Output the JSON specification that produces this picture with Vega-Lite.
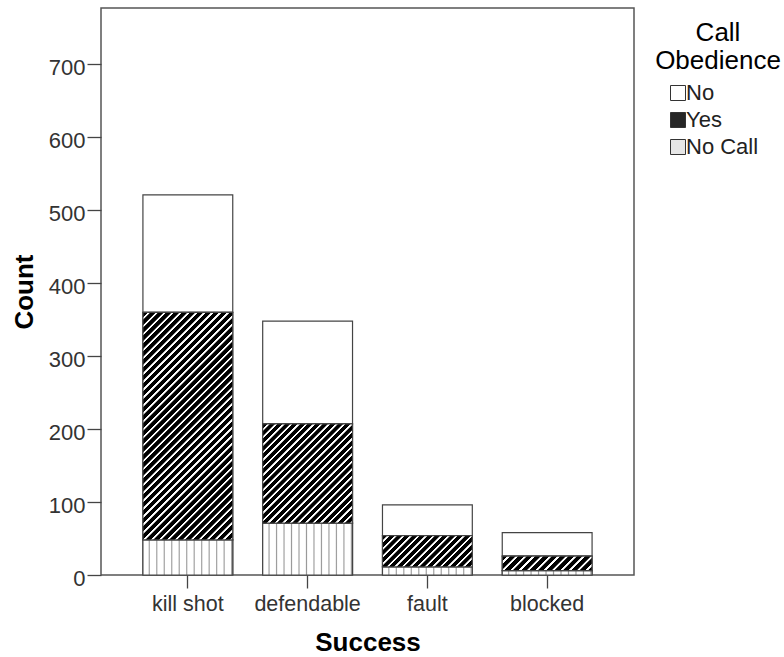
{
  "$schema": "https://vega.github.io/schema/vega-lite/v6.json",
  "width": 533,
  "height": 567,
  "autosize": {"type": "none"},
  "padding": {"left": 101, "top": 8, "right": 150, "bottom": 82},
  "background": "white",
  "config": {
    "font": "Liberation Sans",
    "view": {"stroke": "#555", "strokeWidth": 1.5},
    "axis": {"domain": false, "grid": false, "tickColor": "#444", "tickWidth": 1.3, "labelColor": "#333", "labelFont": "Liberation Sans", "titleFont": "Liberation Sans", "titleColor": "#000", "titleFontWeight": "bold", "titleFontSize": 26}
  },
  "data": {"values": [
    {"success": "kill shot", "obedience": "No", "code": 1, "count": 161},
    {"success": "kill shot", "obedience": "Yes", "code": 2, "count": 312},
    {"success": "kill shot", "obedience": "No Call", "code": 3, "count": 48},
    {"success": "defendable", "obedience": "No", "code": 1, "count": 141},
    {"success": "defendable", "obedience": "Yes", "code": 2, "count": 136},
    {"success": "defendable", "obedience": "No Call", "code": 3, "count": 71},
    {"success": "fault", "obedience": "No", "code": 1, "count": 42},
    {"success": "fault", "obedience": "Yes", "code": 2, "count": 43},
    {"success": "fault", "obedience": "No Call", "code": 3, "count": 11},
    {"success": "blocked", "obedience": "No", "code": 1, "count": 32},
    {"success": "blocked", "obedience": "Yes", "code": 2, "count": 20},
    {"success": "blocked", "obedience": "No Call", "code": 3, "count": 6}
  ]},
  "transform": [
    {"stack": "count", "groupby": ["success"], "sort": [{"field": "code", "order": "descending"}], "as": ["y0", "y1"]}
  ],
  "encoding": {
    "x": {"field": "success", "type": "nominal", "sort": ["kill shot", "defendable", "fault", "blocked"],
      "scale": {"paddingInner": 0.25, "paddingOuter": 0.35},
      "axis": {"title": "Success", "labelAngle": 0, "tickSize": 13, "labelPadding": 5, "labelFontSize": 21.5, "titlePadding": 15}},
    "y": {"field": "y0", "type": "quantitative", "scale": {"domain": [0, 777], "nice": false},
      "axis": {"title": "Count", "values": [0, 100, 200, 300, 400, 500, 600, 700], "tickSize": 14, "labelPadding": 2, "labelFontSize": 22, "labelOffset": 3.5, "titlePadding": 11}},
    "y2": {"field": "y1"}
  },
  "layer": [
    {
      "mark": {"type": "bar", "stroke": "#444", "strokeWidth": 1.2},
      "encoding": {
        "color": {"field": "obedience", "type": "nominal",
          "scale": {"domain": ["No", "Yes", "No Call"], "range": ["#ffffff", "#262626", "#e6e6e6"]},
          "legend": {"title": ["Call", "Obedience"], "orient": "right", "offset": 9, "padding": 12,
            "titleFontSize": 26, "titleFontWeight": "normal", "titleAlign": "center", "titleAnchor": "middle", "titleLineHeight": 28, "titlePadding": 8, "titleColor": "#000",
            "labelFontSize": 22, "labelColor": "#222", "symbolType": "square", "symbolSize": 225, "symbolStrokeColor": "#333", "symbolStrokeWidth": 1,
            "symbolOffset": -10, "labelOffset": -3, "rowPadding": 5}
        }
      }
    },
    {
      "transform": [{"filter": "datum.obedience === 'No Call'"}],
      "mark": {"type": "bar", "stroke": "#444", "strokeWidth": 1.2,
        "fill": {"gradient": "linear", "x1": 0, "y1": 0, "x2": 1, "y2": 0, "stops": [
          {"offset": 0, "color": "#fff"}, {"offset": 0.0583, "color": "#fff"}, {"offset": 0.0708, "color": "#999"},
          {"offset": 0.0833, "color": "#fff"}, {"offset": 0.1417, "color": "#fff"}, {"offset": 0.1542, "color": "#999"},
          {"offset": 0.1667, "color": "#fff"}, {"offset": 0.225, "color": "#fff"}, {"offset": 0.2375, "color": "#999"},
          {"offset": 0.25, "color": "#fff"}, {"offset": 0.3083, "color": "#fff"}, {"offset": 0.3208, "color": "#999"},
          {"offset": 0.3333, "color": "#fff"}, {"offset": 0.3917, "color": "#fff"}, {"offset": 0.4042, "color": "#999"},
          {"offset": 0.4167, "color": "#fff"}, {"offset": 0.475, "color": "#fff"}, {"offset": 0.4875, "color": "#999"},
          {"offset": 0.5, "color": "#fff"}, {"offset": 0.5583, "color": "#fff"}, {"offset": 0.5708, "color": "#999"},
          {"offset": 0.5833, "color": "#fff"}, {"offset": 0.6417, "color": "#fff"}, {"offset": 0.6542, "color": "#999"},
          {"offset": 0.6667, "color": "#fff"}, {"offset": 0.725, "color": "#fff"}, {"offset": 0.7375, "color": "#999"},
          {"offset": 0.75, "color": "#fff"}, {"offset": 0.8083, "color": "#fff"}, {"offset": 0.8208, "color": "#999"},
          {"offset": 0.8333, "color": "#fff"}, {"offset": 0.8917, "color": "#fff"}, {"offset": 0.9042, "color": "#999"},
          {"offset": 0.9167, "color": "#fff"}, {"offset": 0.975, "color": "#fff"}, {"offset": 0.9875, "color": "#999"},
          {"offset": 1, "color": "#fff"}
        ]}}
    },
    {
      "transform": [{"filter": "datum.obedience === 'Yes' && datum.success === 'kill shot'"}],
      "mark": {"type": "bar", "stroke": "#444", "strokeWidth": 1.2,
        "fill": {"gradient": "linear", "x1": 0, "y1": 0, "x2": 0.4761, "y2": 1.2065, "stops": [
          {"offset": 0, "color": "#000"}, {"offset": 0.015, "color": "#000"}, {"offset": 0.017, "color": "#fff"}, {"offset": 0.023, "color": "#fff"},
          {"offset": 0.025, "color": "#000"}, {"offset": 0.04, "color": "#000"}, {"offset": 0.042, "color": "#fff"}, {"offset": 0.048, "color": "#fff"},
          {"offset": 0.05, "color": "#000"}, {"offset": 0.065, "color": "#000"}, {"offset": 0.067, "color": "#fff"}, {"offset": 0.073, "color": "#fff"},
          {"offset": 0.075, "color": "#000"}, {"offset": 0.09, "color": "#000"}, {"offset": 0.092, "color": "#fff"}, {"offset": 0.098, "color": "#fff"},
          {"offset": 0.1, "color": "#000"}, {"offset": 0.115, "color": "#000"}, {"offset": 0.117, "color": "#fff"}, {"offset": 0.123, "color": "#fff"},
          {"offset": 0.125, "color": "#000"}, {"offset": 0.14, "color": "#000"}, {"offset": 0.142, "color": "#fff"}, {"offset": 0.148, "color": "#fff"},
          {"offset": 0.15, "color": "#000"}, {"offset": 0.165, "color": "#000"}, {"offset": 0.167, "color": "#fff"}, {"offset": 0.173, "color": "#fff"},
          {"offset": 0.175, "color": "#000"}, {"offset": 0.19, "color": "#000"}, {"offset": 0.192, "color": "#fff"}, {"offset": 0.198, "color": "#fff"},
          {"offset": 0.2, "color": "#000"}, {"offset": 0.215, "color": "#000"}, {"offset": 0.217, "color": "#fff"}, {"offset": 0.223, "color": "#fff"},
          {"offset": 0.225, "color": "#000"}, {"offset": 0.24, "color": "#000"}, {"offset": 0.242, "color": "#fff"}, {"offset": 0.248, "color": "#fff"},
          {"offset": 0.25, "color": "#000"}, {"offset": 0.265, "color": "#000"}, {"offset": 0.267, "color": "#fff"}, {"offset": 0.273, "color": "#fff"},
          {"offset": 0.275, "color": "#000"}, {"offset": 0.29, "color": "#000"}, {"offset": 0.292, "color": "#fff"}, {"offset": 0.298, "color": "#fff"},
          {"offset": 0.3, "color": "#000"}, {"offset": 0.315, "color": "#000"}, {"offset": 0.317, "color": "#fff"}, {"offset": 0.323, "color": "#fff"},
          {"offset": 0.325, "color": "#000"}, {"offset": 0.34, "color": "#000"}, {"offset": 0.342, "color": "#fff"}, {"offset": 0.348, "color": "#fff"},
          {"offset": 0.35, "color": "#000"}, {"offset": 0.365, "color": "#000"}, {"offset": 0.367, "color": "#fff"}, {"offset": 0.373, "color": "#fff"},
          {"offset": 0.375, "color": "#000"}, {"offset": 0.39, "color": "#000"}, {"offset": 0.392, "color": "#fff"}, {"offset": 0.398, "color": "#fff"},
          {"offset": 0.4, "color": "#000"}, {"offset": 0.415, "color": "#000"}, {"offset": 0.417, "color": "#fff"}, {"offset": 0.423, "color": "#fff"},
          {"offset": 0.425, "color": "#000"}, {"offset": 0.44, "color": "#000"}, {"offset": 0.442, "color": "#fff"}, {"offset": 0.448, "color": "#fff"},
          {"offset": 0.45, "color": "#000"}, {"offset": 0.465, "color": "#000"}, {"offset": 0.467, "color": "#fff"}, {"offset": 0.473, "color": "#fff"},
          {"offset": 0.475, "color": "#000"}, {"offset": 0.49, "color": "#000"}, {"offset": 0.492, "color": "#fff"}, {"offset": 0.498, "color": "#fff"},
          {"offset": 0.5, "color": "#000"}, {"offset": 0.515, "color": "#000"}, {"offset": 0.517, "color": "#fff"}, {"offset": 0.523, "color": "#fff"},
          {"offset": 0.525, "color": "#000"}, {"offset": 0.54, "color": "#000"}, {"offset": 0.542, "color": "#fff"}, {"offset": 0.548, "color": "#fff"},
          {"offset": 0.55, "color": "#000"}, {"offset": 0.565, "color": "#000"}, {"offset": 0.567, "color": "#fff"}, {"offset": 0.573, "color": "#fff"},
          {"offset": 0.575, "color": "#000"}, {"offset": 0.59, "color": "#000"}, {"offset": 0.592, "color": "#fff"}, {"offset": 0.598, "color": "#fff"},
          {"offset": 0.6, "color": "#000"}, {"offset": 0.615, "color": "#000"}, {"offset": 0.617, "color": "#fff"}, {"offset": 0.623, "color": "#fff"},
          {"offset": 0.625, "color": "#000"}, {"offset": 0.64, "color": "#000"}, {"offset": 0.642, "color": "#fff"}, {"offset": 0.648, "color": "#fff"},
          {"offset": 0.65, "color": "#000"}, {"offset": 0.665, "color": "#000"}, {"offset": 0.667, "color": "#fff"}, {"offset": 0.673, "color": "#fff"},
          {"offset": 0.675, "color": "#000"}, {"offset": 0.69, "color": "#000"}, {"offset": 0.692, "color": "#fff"}, {"offset": 0.698, "color": "#fff"},
          {"offset": 0.7, "color": "#000"}, {"offset": 0.715, "color": "#000"}, {"offset": 0.717, "color": "#fff"}, {"offset": 0.723, "color": "#fff"},
          {"offset": 0.725, "color": "#000"}, {"offset": 0.74, "color": "#000"}, {"offset": 0.742, "color": "#fff"}, {"offset": 0.748, "color": "#fff"},
          {"offset": 0.75, "color": "#000"}, {"offset": 0.765, "color": "#000"}, {"offset": 0.767, "color": "#fff"}, {"offset": 0.773, "color": "#fff"},
          {"offset": 0.775, "color": "#000"}, {"offset": 0.79, "color": "#000"}, {"offset": 0.792, "color": "#fff"}, {"offset": 0.798, "color": "#fff"},
          {"offset": 0.8, "color": "#000"}, {"offset": 0.815, "color": "#000"}, {"offset": 0.817, "color": "#fff"}, {"offset": 0.823, "color": "#fff"},
          {"offset": 0.825, "color": "#000"}, {"offset": 0.84, "color": "#000"}, {"offset": 0.842, "color": "#fff"}, {"offset": 0.848, "color": "#fff"},
          {"offset": 0.85, "color": "#000"}, {"offset": 0.865, "color": "#000"}, {"offset": 0.867, "color": "#fff"}, {"offset": 0.873, "color": "#fff"},
          {"offset": 0.875, "color": "#000"}, {"offset": 0.89, "color": "#000"}, {"offset": 0.892, "color": "#fff"}, {"offset": 0.898, "color": "#fff"},
          {"offset": 0.9, "color": "#000"}, {"offset": 0.915, "color": "#000"}, {"offset": 0.917, "color": "#fff"}, {"offset": 0.923, "color": "#fff"},
          {"offset": 0.925, "color": "#000"}, {"offset": 0.94, "color": "#000"}, {"offset": 0.942, "color": "#fff"}, {"offset": 0.948, "color": "#fff"},
          {"offset": 0.95, "color": "#000"}, {"offset": 0.965, "color": "#000"}, {"offset": 0.967, "color": "#fff"}, {"offset": 0.973, "color": "#fff"},
          {"offset": 0.975, "color": "#000"}, {"offset": 0.99, "color": "#000"}, {"offset": 0.992, "color": "#fff"}, {"offset": 0.998, "color": "#fff"},
          {"offset": 1, "color": "#000"}
        ]}}
    },
    {
      "transform": [{"filter": "datum.obedience === 'Yes' && datum.success === 'defendable'"}],
      "mark": {"type": "bar", "stroke": "#444", "strokeWidth": 1.2,
        "fill": {"gradient": "linear", "x1": 0, "y1": 0, "x2": 0.9482, "y2": 1.0469, "stops": [
          {"offset": 0, "color": "#000"}, {"offset": 0.024, "color": "#000"}, {"offset": 0.027, "color": "#fff"}, {"offset": 0.037, "color": "#fff"},
          {"offset": 0.04, "color": "#000"}, {"offset": 0.064, "color": "#000"}, {"offset": 0.067, "color": "#fff"}, {"offset": 0.077, "color": "#fff"},
          {"offset": 0.08, "color": "#000"}, {"offset": 0.104, "color": "#000"}, {"offset": 0.107, "color": "#fff"}, {"offset": 0.117, "color": "#fff"},
          {"offset": 0.12, "color": "#000"}, {"offset": 0.144, "color": "#000"}, {"offset": 0.147, "color": "#fff"}, {"offset": 0.157, "color": "#fff"},
          {"offset": 0.16, "color": "#000"}, {"offset": 0.184, "color": "#000"}, {"offset": 0.187, "color": "#fff"}, {"offset": 0.197, "color": "#fff"},
          {"offset": 0.2, "color": "#000"}, {"offset": 0.224, "color": "#000"}, {"offset": 0.227, "color": "#fff"}, {"offset": 0.237, "color": "#fff"},
          {"offset": 0.24, "color": "#000"}, {"offset": 0.264, "color": "#000"}, {"offset": 0.267, "color": "#fff"}, {"offset": 0.277, "color": "#fff"},
          {"offset": 0.28, "color": "#000"}, {"offset": 0.304, "color": "#000"}, {"offset": 0.307, "color": "#fff"}, {"offset": 0.317, "color": "#fff"},
          {"offset": 0.32, "color": "#000"}, {"offset": 0.344, "color": "#000"}, {"offset": 0.347, "color": "#fff"}, {"offset": 0.357, "color": "#fff"},
          {"offset": 0.36, "color": "#000"}, {"offset": 0.384, "color": "#000"}, {"offset": 0.387, "color": "#fff"}, {"offset": 0.397, "color": "#fff"},
          {"offset": 0.4, "color": "#000"}, {"offset": 0.424, "color": "#000"}, {"offset": 0.427, "color": "#fff"}, {"offset": 0.437, "color": "#fff"},
          {"offset": 0.44, "color": "#000"}, {"offset": 0.464, "color": "#000"}, {"offset": 0.467, "color": "#fff"}, {"offset": 0.477, "color": "#fff"},
          {"offset": 0.48, "color": "#000"}, {"offset": 0.504, "color": "#000"}, {"offset": 0.507, "color": "#fff"}, {"offset": 0.517, "color": "#fff"},
          {"offset": 0.52, "color": "#000"}, {"offset": 0.544, "color": "#000"}, {"offset": 0.547, "color": "#fff"}, {"offset": 0.557, "color": "#fff"},
          {"offset": 0.56, "color": "#000"}, {"offset": 0.584, "color": "#000"}, {"offset": 0.587, "color": "#fff"}, {"offset": 0.597, "color": "#fff"},
          {"offset": 0.6, "color": "#000"}, {"offset": 0.624, "color": "#000"}, {"offset": 0.627, "color": "#fff"}, {"offset": 0.637, "color": "#fff"},
          {"offset": 0.64, "color": "#000"}, {"offset": 0.664, "color": "#000"}, {"offset": 0.667, "color": "#fff"}, {"offset": 0.677, "color": "#fff"},
          {"offset": 0.68, "color": "#000"}, {"offset": 0.704, "color": "#000"}, {"offset": 0.707, "color": "#fff"}, {"offset": 0.717, "color": "#fff"},
          {"offset": 0.72, "color": "#000"}, {"offset": 0.744, "color": "#000"}, {"offset": 0.747, "color": "#fff"}, {"offset": 0.757, "color": "#fff"},
          {"offset": 0.76, "color": "#000"}, {"offset": 0.784, "color": "#000"}, {"offset": 0.787, "color": "#fff"}, {"offset": 0.797, "color": "#fff"},
          {"offset": 0.8, "color": "#000"}, {"offset": 0.824, "color": "#000"}, {"offset": 0.827, "color": "#fff"}, {"offset": 0.837, "color": "#fff"},
          {"offset": 0.84, "color": "#000"}, {"offset": 0.864, "color": "#000"}, {"offset": 0.867, "color": "#fff"}, {"offset": 0.877, "color": "#fff"},
          {"offset": 0.88, "color": "#000"}, {"offset": 0.904, "color": "#000"}, {"offset": 0.907, "color": "#fff"}, {"offset": 0.917, "color": "#fff"},
          {"offset": 0.92, "color": "#000"}, {"offset": 0.944, "color": "#000"}, {"offset": 0.947, "color": "#fff"}, {"offset": 0.957, "color": "#fff"},
          {"offset": 0.96, "color": "#000"}, {"offset": 0.984, "color": "#000"}, {"offset": 0.987, "color": "#fff"}, {"offset": 0.997, "color": "#fff"},
          {"offset": 1, "color": "#000"}
        ]}}
    },
    {
      "transform": [{"filter": "datum.obedience === 'Yes' && datum.success === 'fault'"}],
      "mark": {"type": "bar", "stroke": "#444", "strokeWidth": 1.2,
        "fill": {"gradient": "linear", "x1": 0, "y1": 0, "x2": 1.2026, "y2": 0.4203, "stops": [
          {"offset": 0, "color": "#000"}, {"offset": 0.0375, "color": "#000"}, {"offset": 0.0425, "color": "#fff"}, {"offset": 0.0575, "color": "#fff"},
          {"offset": 0.0625, "color": "#000"}, {"offset": 0.1, "color": "#000"}, {"offset": 0.105, "color": "#fff"}, {"offset": 0.12, "color": "#fff"},
          {"offset": 0.125, "color": "#000"}, {"offset": 0.1625, "color": "#000"}, {"offset": 0.1675, "color": "#fff"}, {"offset": 0.1825, "color": "#fff"},
          {"offset": 0.1875, "color": "#000"}, {"offset": 0.225, "color": "#000"}, {"offset": 0.23, "color": "#fff"}, {"offset": 0.245, "color": "#fff"},
          {"offset": 0.25, "color": "#000"}, {"offset": 0.2875, "color": "#000"}, {"offset": 0.2925, "color": "#fff"}, {"offset": 0.3075, "color": "#fff"},
          {"offset": 0.3125, "color": "#000"}, {"offset": 0.35, "color": "#000"}, {"offset": 0.355, "color": "#fff"}, {"offset": 0.37, "color": "#fff"},
          {"offset": 0.375, "color": "#000"}, {"offset": 0.4125, "color": "#000"}, {"offset": 0.4175, "color": "#fff"}, {"offset": 0.4325, "color": "#fff"},
          {"offset": 0.4375, "color": "#000"}, {"offset": 0.475, "color": "#000"}, {"offset": 0.48, "color": "#fff"}, {"offset": 0.495, "color": "#fff"},
          {"offset": 0.5, "color": "#000"}, {"offset": 0.5375, "color": "#000"}, {"offset": 0.5425, "color": "#fff"}, {"offset": 0.5575, "color": "#fff"},
          {"offset": 0.5625, "color": "#000"}, {"offset": 0.6, "color": "#000"}, {"offset": 0.605, "color": "#fff"}, {"offset": 0.62, "color": "#fff"},
          {"offset": 0.625, "color": "#000"}, {"offset": 0.6625, "color": "#000"}, {"offset": 0.6675, "color": "#fff"}, {"offset": 0.6825, "color": "#fff"},
          {"offset": 0.6875, "color": "#000"}, {"offset": 0.725, "color": "#000"}, {"offset": 0.73, "color": "#fff"}, {"offset": 0.745, "color": "#fff"},
          {"offset": 0.75, "color": "#000"}, {"offset": 0.7875, "color": "#000"}, {"offset": 0.7925, "color": "#fff"}, {"offset": 0.8075, "color": "#fff"},
          {"offset": 0.8125, "color": "#000"}, {"offset": 0.85, "color": "#000"}, {"offset": 0.855, "color": "#fff"}, {"offset": 0.87, "color": "#fff"},
          {"offset": 0.875, "color": "#000"}, {"offset": 0.9125, "color": "#000"}, {"offset": 0.9175, "color": "#fff"}, {"offset": 0.9325, "color": "#fff"},
          {"offset": 0.9375, "color": "#000"}, {"offset": 0.975, "color": "#000"}, {"offset": 0.98, "color": "#fff"}, {"offset": 0.995, "color": "#fff"},
          {"offset": 1, "color": "#000"}
        ]}}
    },
    {
      "transform": [{"filter": "datum.obedience === 'Yes' && datum.success === 'blocked'"}],
      "mark": {"type": "bar", "stroke": "#444", "strokeWidth": 1.2,
        "fill": {"gradient": "linear", "x1": 0, "y1": 0, "x2": 1.1326, "y2": 0.184, "stops": [
          {"offset": 0, "color": "#000"}, {"offset": 0.048, "color": "#000"}, {"offset": 0.054, "color": "#fff"}, {"offset": 0.074, "color": "#fff"},
          {"offset": 0.08, "color": "#000"}, {"offset": 0.128, "color": "#000"}, {"offset": 0.134, "color": "#fff"}, {"offset": 0.154, "color": "#fff"},
          {"offset": 0.16, "color": "#000"}, {"offset": 0.208, "color": "#000"}, {"offset": 0.214, "color": "#fff"}, {"offset": 0.234, "color": "#fff"},
          {"offset": 0.24, "color": "#000"}, {"offset": 0.288, "color": "#000"}, {"offset": 0.294, "color": "#fff"}, {"offset": 0.314, "color": "#fff"},
          {"offset": 0.32, "color": "#000"}, {"offset": 0.368, "color": "#000"}, {"offset": 0.374, "color": "#fff"}, {"offset": 0.394, "color": "#fff"},
          {"offset": 0.4, "color": "#000"}, {"offset": 0.448, "color": "#000"}, {"offset": 0.454, "color": "#fff"}, {"offset": 0.474, "color": "#fff"},
          {"offset": 0.48, "color": "#000"}, {"offset": 0.528, "color": "#000"}, {"offset": 0.534, "color": "#fff"}, {"offset": 0.554, "color": "#fff"},
          {"offset": 0.56, "color": "#000"}, {"offset": 0.608, "color": "#000"}, {"offset": 0.614, "color": "#fff"}, {"offset": 0.634, "color": "#fff"},
          {"offset": 0.64, "color": "#000"}, {"offset": 0.688, "color": "#000"}, {"offset": 0.694, "color": "#fff"}, {"offset": 0.714, "color": "#fff"},
          {"offset": 0.72, "color": "#000"}, {"offset": 0.768, "color": "#000"}, {"offset": 0.774, "color": "#fff"}, {"offset": 0.794, "color": "#fff"},
          {"offset": 0.8, "color": "#000"}, {"offset": 0.848, "color": "#000"}, {"offset": 0.854, "color": "#fff"}, {"offset": 0.874, "color": "#fff"},
          {"offset": 0.88, "color": "#000"}, {"offset": 0.928, "color": "#000"}, {"offset": 0.934, "color": "#fff"}, {"offset": 0.954, "color": "#fff"},
          {"offset": 0.96, "color": "#000"}, {"offset": 1, "color": "#000"}
        ]}}
    }
  ]
}
